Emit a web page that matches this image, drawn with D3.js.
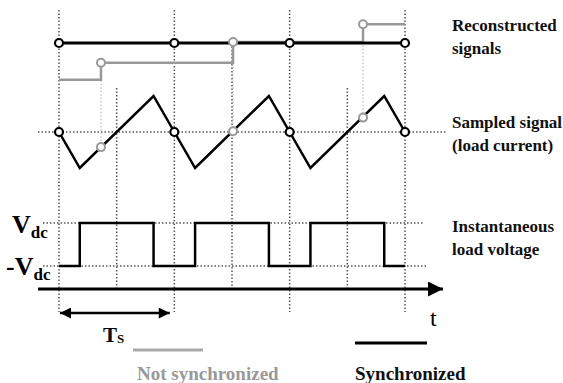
<!DOCTYPE html>
<html>
<head>
<meta charset="utf-8">
<script src="https://cdn.jsdelivr.net/npm/d3@7"></script>
<style>
  body { margin: 0; background: #fff; }
  text { font-family: "Liberation Serif", "Times New Roman", serif; font-weight: bold; }
</style>
</head>
<body>
<div id="chart"></div>
<script>
// time is measured in switching periods Ts
const periodLines = [0, 1, 2, 3];
const halfLines = [0.5, 1.5, 2.5];

// load current (triangle), normalised to +-1
const triangle = [[0, 0], [0.18, -1], [0.82, 1], [1, 0], [1.18, -1], [1.82, 1],
  [2, 0], [2.18, -1], [2.82, 1], [3, 0]];

// load voltage, value holds from each switching time
const voltage = [[0, -1], [0.18, 1], [0.82, -1], [1.18, 1], [1.82, -1],
  [2.18, 1], [2.82, -1], [3, -1]];

// synchronized samples (zero crossings)
const syncTimes = [0, 1, 2, 3];
const syncValue = 0;

// not synchronized samples
const asyncTimes = [0.364, 1.509, 2.636];
const asyncValues = [-0.42, 0.02, 0.40];
const asyncStart = -0.78;

const labels = [
  ["Reconstructed", "signals"],
  ["Sampled signal", "(load current)"],
  ["Instantaneous", "load voltage"]
];
const legendNames = ["Not synchronized", "Synchronized"];

const width = 563, height = 383;
const svg = d3.select("#chart").append("svg")
  .attr("width", width)
  .attr("height", height);

const x = d3.scaleLinear().domain([0, 3]).range([59, 405]);
const yTri = d3.scaleLinear().domain([-1, 1]).range([168, 96]);
const ySq = d3.scaleLinear().domain([-1, 1]).range([266, 223]);
const yRec = d3.scaleLinear().domain([-1, 1]).range([90, -4]);

const dotted = "1.5,2";
const dotColor = "#555";

// vertical grid
svg.selectAll(".vfull").data(periodLines).enter().append("line")
  .attr("x1", d => x(d)).attr("x2", d => x(d))
  .attr("y1", 10).attr("y2", 312)
  .attr("stroke", dotColor).attr("stroke-width", 1.5)
  .attr("stroke-dasharray", dotted);

svg.selectAll(".vhalf").data(halfLines).enter().append("line")
  .attr("x1", d => x(d)).attr("x2", d => x(d))
  .attr("y1", d => d === 1.5 ? yRec(0) : 88).attr("y2", 288)
  .attr("stroke", dotColor).attr("stroke-width", 1.5)
  .attr("stroke-dasharray", dotted);

// horizontal dotted references
svg.append("line").attr("x1", 38).attr("x2", 447)
  .attr("y1", yTri(0)).attr("y2", yTri(0))
  .attr("stroke", dotColor).attr("stroke-width", 1.5).attr("stroke-dasharray", dotted);
[1, -1].forEach(v => {
  svg.append("line").attr("x1", 43).attr("x2", v > 0 ? 423 : 427)
    .attr("y1", ySq(v)).attr("y2", ySq(v))
    .attr("stroke", dotColor).attr("stroke-width", 1.5).attr("stroke-dasharray", dotted);
});

// gray sample guides
asyncTimes.forEach((t, i) => {
  svg.append("line")
    .attr("x1", x(t)).attr("x2", x(t))
    .attr("y1", yRec(asyncValues[i])).attr("y2", yTri(asyncValues[i]))
    .attr("stroke", "#bbb").attr("stroke-width", 1.2).attr("stroke-dasharray", dotted);
});

// reconstructed signals
const recGray = [[0, asyncStart]].concat(asyncTimes.map((t, i) => [t, asyncValues[i]]), [[3, asyncValues[2]]]);
const stepLine = d3.line().x(d => x(d[0])).y(d => yRec(d[1])).curve(d3.curveStepAfter);

svg.append("path").datum(recGray).attr("d", stepLine)
  .attr("fill", "none").attr("stroke", "#999").attr("stroke-width", 2.5);
svg.append("path").datum([[0, syncValue], [3, syncValue]]).attr("d", stepLine)
  .attr("fill", "none").attr("stroke", "#000").attr("stroke-width", 3);

// triangle
svg.append("path").datum(triangle)
  .attr("d", d3.line().x(d => x(d[0])).y(d => yTri(d[1])))
  .attr("fill", "none").attr("stroke", "#000").attr("stroke-width", 2.5)
  .attr("stroke-linejoin", "miter");

// square wave
svg.append("path").datum(voltage)
  .attr("d", d3.line().x(d => x(d[0])).y(d => ySq(d[1])).curve(d3.curveStepAfter))
  .attr("fill", "none").attr("stroke", "#000").attr("stroke-width", 2.5);

// sample markers
function marks(times, vals, yScale, color, sw) {
  svg.append("g").selectAll("circle").data(times).enter().append("circle")
    .attr("cx", d => x(d))
    .attr("cy", (d, i) => yScale(vals[i]))
    .attr("r", 4)
    .attr("fill", "#fff").attr("stroke", color).attr("stroke-width", sw);
}
marks(syncTimes, syncTimes.map(() => syncValue), yRec, "#000", 2.2);
marks(syncTimes, syncTimes.map(() => syncValue), yTri, "#000", 2.2);
marks(asyncTimes, asyncValues, yRec, "#999", 2);
marks(asyncTimes, asyncValues, yTri, "#999", 2);

// time axis
const defs = svg.append("defs");
defs.append("marker").attr("id", "bigArrow")
  .attr("viewBox", "0 0 10 10").attr("refX", 10).attr("refY", 5)
  .attr("markerWidth", 5).attr("markerHeight", 5).attr("markerUnits", "strokeWidth")
  .attr("orient", "auto")
  .append("path").attr("d", "M0,0 L10,5 L0,10 Z").attr("fill", "#000");
defs.append("marker").attr("id", "smallArrow")
  .attr("viewBox", "0 0 10 10").attr("refX", 10).attr("refY", 5)
  .attr("markerWidth", 5).attr("markerHeight", 4.4).attr("markerUnits", "strokeWidth")
  .attr("orient", "auto-start-reverse")
  .append("path").attr("d", "M0,0 L10,5 L0,10 Z").attr("fill", "#000");

svg.append("line").attr("x1", 38).attr("x2", 443).attr("y1", 289).attr("y2", 289)
  .attr("stroke", "#000").attr("stroke-width", 3).attr("marker-end", "url(#bigArrow)");
svg.append("text").attr("x", 430).attr("y", 326).attr("font-size", 24)
  .style("font-weight", "normal").text("t");

// Ts arrow
svg.append("line").attr("x1", x(0) + 1).attr("x2", x(0.96)).attr("y1", 313).attr("y2", 313)
  .attr("stroke", "#000").attr("stroke-width", 2.5)
  .attr("marker-start", "url(#smallArrow)").attr("marker-end", "url(#smallArrow)");
const ts = svg.append("text").attr("x", 103).attr("y", 342).attr("font-size", 21);
ts.append("tspan").text("T");
ts.append("tspan").attr("font-size", 13).attr("dy", 1).text("S");

// Vdc labels
const v1 = svg.append("text").attr("x", 12).attr("y", 233).attr("font-size", 26);
v1.append("tspan").text("V");
v1.append("tspan").attr("font-size", 17).attr("dy", 5).text("dc");
const v2 = svg.append("text").attr("x", 6).attr("y", 275).attr("font-size", 26);
v2.append("tspan").text("-V");
v2.append("tspan").attr("font-size", 17).attr("dy", 5).text("dc");

// right-hand labels
const labelY = [31, 128, 232];
labels.forEach((pair, i) => {
  pair.forEach((s, j) => {
    svg.append("text").attr("x", 452).attr("y", labelY[i] + j * 23)
      .attr("font-size", 17).attr("fill", "#111").text(s);
  });
});

// legend
svg.append("line").attr("x1", 133).attr("x2", 203).attr("y1", 350).attr("y2", 350)
  .attr("stroke", "#aaa").attr("stroke-width", 3);
svg.append("line").attr("x1", 355).attr("x2", 427).attr("y1", 343).attr("y2", 343)
  .attr("stroke", "#000").attr("stroke-width", 3);
svg.append("text").attr("x", 137).attr("y", 380).attr("font-size", 19)
  .attr("fill", "#999").text(legendNames[0]);
svg.append("text").attr("x", 355).attr("y", 380).attr("font-size", 19)
  .attr("fill", "#111").text(legendNames[1]);
</script>
</body>
</html>
